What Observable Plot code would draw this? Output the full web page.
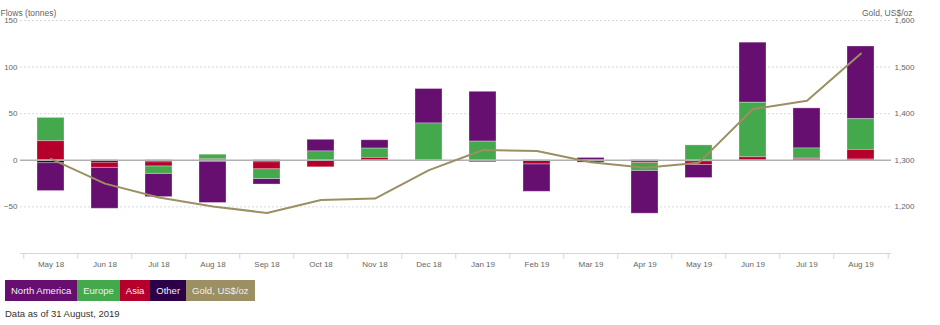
<!DOCTYPE html>
<html><head><meta charset="utf-8">
<script src="https://cdn.jsdelivr.net/npm/d3@7"></script>
<script src="https://cdn.jsdelivr.net/npm/@observablehq/plot@0.6"></script>
<style>
body{margin:0;font-family:"Liberation Sans",Arial,sans-serif;background:#fff}
#legend{display:flex;margin:5px 0 0 5px;height:21px}
#legend span{display:flex;align-items:center;padding:0 6px;color:#f0f0f0;font-size:9.5px}
#caption{margin:7px 0 0 5px;font-size:9.5px;color:#333}
</style></head><body>
<div id="chart"></div><div id="legend"></div><div id="caption">Data as of 31 August, 2019</div>
<script>
const months = ["May 18","Jun 18","Jul 18","Aug 18","Sep 18","Oct 18","Nov 18","Dec 18","Jan 19","Feb 19","Mar 19","Apr 19","May 19","Jun 19","Jul 19","Aug 19"];
const northAmerica = [-30, -44, -25, -44, -6, 12.5, 9, 37, 53.5, -29.5, 2.5, -46, -14, 64.5, 43, 78];
const europe       = [25, 0, -8, 5, -10.5, 9.5, 10, 39.5, 20, 0, 0, -8.5, 16, 58.5, 11, 33];
const asia         = [20.5, -5.5, -4.5, 1, -7.5, -7.5, 2.5, 0, 0, -4.3, -2, -1.8, -4, 3.2, 0.7, 10.3];
const other        = [-3, -2.5, -2, -1.8, -2, 0, 0, 0, -2, 0, -0.5, -1, -1, 0, 1, 0.8];
const gold         = [1303, 1250, 1220, 1201, 1187, 1215, 1218, 1279, 1322, 1320, 1296, 1284, 1295, 1410, 1428, 1529];
const regions = ["North America","Europe","Asia","Other"];
const regionColors = ["#660f70","#44a84c","#b5002c","#2c0148"];
const goldColor = "#9b8f63";
const leftTicks = [-50, 0, 50, 100, 150];
const goldTicks = [1200, 1300, 1400, 1500, 1600];

const series = {"North America": northAmerica, "Europe": europe, "Asia": asia, "Other": other};
const flows = [];
for (const r of regions) months.forEach((m, i) => { if (series[r][i] !== 0) flows.push({month: m, region: r, value: series[r][i]}); });
const goldData = months.map((m, i) => ({month: m, gold: gold[i]}));
const toFlow = g => (g - 1300) / 2;

const W = 940, ML = 20, MR = 49;
const step = (W - ML - MR) / months.length;
const font = '"Liberation Sans", Arial, sans-serif';

const chart = Plot.plot({
  width: W, height: 275,
  marginLeft: ML, marginRight: MR, marginTop: 20, marginBottom: 22,
  style: {fontFamily: font, fontSize: "8px", color: "#666", background: "white", overflow: "visible"},
  x: {domain: months, paddingInner: 0.5, paddingOuter: 0.25, axis: null},
  y: {domain: [-100, 150], axis: null},
  color: {domain: regions, range: regionColors},
  marks: [
    Plot.ruleY(leftTicks.filter(d => d !== 0), {stroke: "#d9d9d9", strokeDasharray: "2,2"}),
    Plot.barY(flows, Plot.stackY({order: ["Other","Asia","Europe","North America"]},
      {x: "month", y: "value", fill: "region", stroke: "#fff", strokeOpacity: 0.3})),
    Plot.ruleY([0], {stroke: "#b0b0b0", strokeWidth: 1.5}),
    Plot.line(goldData, {x: "month", y: d => toFlow(d.gold), stroke: goldColor, strokeWidth: 2}),
    Plot.ruleY([-100], {stroke: "#ccd6eb"}),
    Plot.ruleX(months, {x: d => d, y1: -100, y2: -106.5, dx: -step / 2, stroke: "#ccd6eb"}),
    Plot.ruleX([months[months.length - 1]], {x: d => d, y1: -100, y2: -106.5, dx: step / 2, stroke: "#ccd6eb"}),
    Plot.axisX({tickSize: 0, tickPadding: 8, fill: "#666", label: null}),
    Plot.axisY(leftTicks, {anchor: "left", tickSize: 0, tickPadding: 3, fill: "#666", label: null}),
    Plot.axisY(goldTicks.map(toFlow), {anchor: "right", tickSize: 0, tickPadding: 3, fill: "#666", label: null,
      tickFormat: d => d3.format(",")(1300 + 2 * d)}),
    Plot.text(["Flows (tonnes)"], {frameAnchor: "top-left", dx: -20, dy: -11, textAnchor: "start", fill: "#666", fontSize: 8.5}),
    Plot.text(["Gold, US$/oz"], {frameAnchor: "top-right", dx: 21, dy: -11, textAnchor: "end", fill: "#666", fontSize: 8.5})
  ]
});
document.getElementById("chart").appendChild(chart);

const legend = document.getElementById("legend");
[...regions.map((r, i) => [r, regionColors[i]]), ["Gold, US$/oz", goldColor]].forEach(([t, c]) => {
  const s = document.createElement("span");
  s.textContent = t; s.style.background = c;
  legend.appendChild(s);
});
</script>
</body></html>
